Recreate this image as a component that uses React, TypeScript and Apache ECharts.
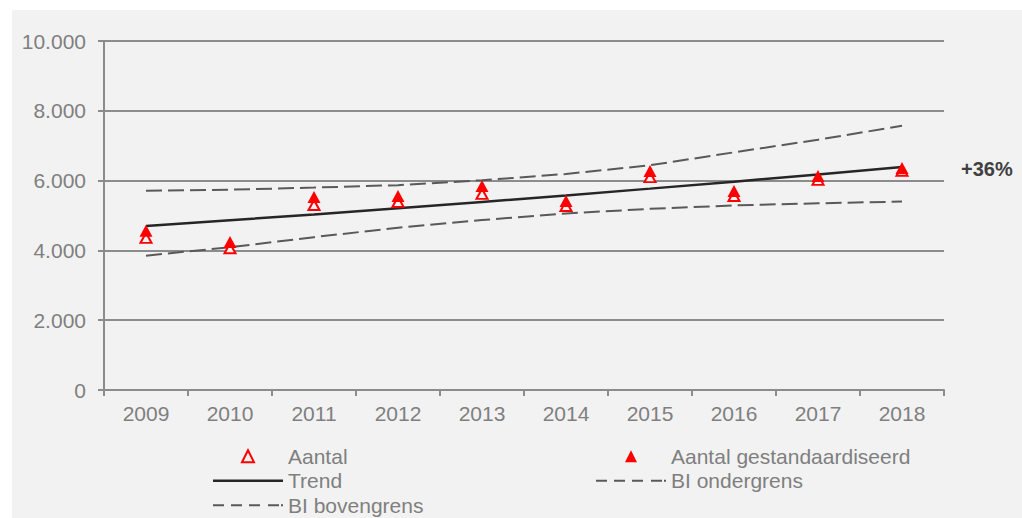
import React, { useEffect, useRef } from "react";
import * as echarts from "echarts";

const years = ["2009", "2010", "2011", "2012", "2013", "2014", "2015", "2016", "2017", "2018"];
const aantal = [4360, 4060, 5300, 5390, 5620, 5270, 6100, 5560, 6020, 6280];
const aantalGest = [4560, 4240, 5530, 5560, 5845, 5415, 6275, 5700, 6130, 6360];
const trend = [4700, 4865, 5030, 5205, 5390, 5575, 5770, 5970, 6175, 6390];
const biOnder = [3850, 4090, 4380, 4650, 4870, 5060, 5190, 5290, 5350, 5400];
const biBoven = [5710, 5740, 5800, 5870, 6010, 6190, 6440, 6810, 7170, 7570];
const changeLabel = "+36%";

const FONT = "'Liberation Sans', Arial, sans-serif";
const GRAY_TEXT = "#7f7f7f";
const AXIS_GRAY = "#8c8c8c";

const TRI_ICON = "path://M0,12L6,0L12,12Z";
const LINE_ICON = "path://M0,0H70V2.5H0Z";
const DASH_ICON = "path://M0,0H11V2H0Z M18,0H29V2H18Z M36,0H47V2H36Z M55,0H66V2H55Z M68,0H70V2H68Z";

export default function App() {
  const ref = useRef<HTMLDivElement>(null);

  useEffect(() => {
    if (!ref.current) return;
    const chart = echarts.init(ref.current, null, { renderer: "svg" });
    const legendCommon = {
      orient: "vertical" as const,
      top: 444,
      padding: 0,
      itemGap: 0,
      itemWidth: 70,
      itemHeight: 12,
      symbolKeepAspect: true,
      selectedMode: false,
      textStyle: { color: GRAY_TEXT, fontSize: 21, fontFamily: FONT, lineHeight: 24.5 },
    };
    chart.setOption({
      animation: false,
      backgroundColor: "transparent",
      textStyle: { fontFamily: FONT },
      grid: { left: 104, right: 78, top: 41, bottom: 128, containLabel: false },
      xAxis: {
        type: "category",
        data: years,
        boundaryGap: true,
        axisLine: { lineStyle: { color: AXIS_GRAY, width: 2 } },
        axisTick: { show: true, length: 6, alignWithLabel: false, lineStyle: { color: AXIS_GRAY, width: 2 } },
        axisLabel: { color: GRAY_TEXT, fontSize: 21, fontFamily: FONT, margin: 13 },
      },
      yAxis: {
        type: "value",
        min: 0,
        max: 10000,
        interval: 2000,
        axisLine: { show: true, lineStyle: { color: AXIS_GRAY, width: 2 } },
        axisTick: { show: true, length: 6, lineStyle: { color: AXIS_GRAY, width: 2 } },
        splitLine: { show: true, lineStyle: { color: AXIS_GRAY, width: 2 } },
        axisLabel: {
          color: GRAY_TEXT,
          fontSize: 21,
          fontFamily: FONT,
          margin: 18,
          formatter: (v: number) => String(v).replace(/\B(?=(\d{3})+(?!\d))/g, "."),
        },
      },
      legend: [
        {
          ...legendCommon,
          left: 213,
          data: [
            { name: "Aantal", icon: TRI_ICON, itemStyle: { color: "#f2f2f2", borderColor: "#ff0000", borderWidth: 2 } },
            { name: "Trend", icon: LINE_ICON, itemStyle: { color: "#262626", borderWidth: 0 } },
            { name: "BI bovengrens", icon: DASH_ICON, itemStyle: { color: "#595959", borderWidth: 0 } },
          ],
        },
        {
          ...legendCommon,
          left: 596,
          data: [
            { name: "Aantal gestandaardiseerd", icon: TRI_ICON, itemStyle: { color: "#ff0000", borderWidth: 0 } },
            { name: "BI ondergrens", icon: DASH_ICON, itemStyle: { color: "#595959", borderWidth: 0 } },
          ],
        },
      ],
      series: [
        {
          name: "BI ondergrens",
          type: "line",
          data: biOnder,
          symbol: "none",
          lineStyle: { color: "#595959", width: 2, type: [16, 6] },
          itemStyle: { color: "#595959" },
          z: 1,
        },
        {
          name: "BI bovengrens",
          type: "line",
          data: biBoven,
          symbol: "none",
          lineStyle: { color: "#595959", width: 2, type: [16, 6] },
          itemStyle: { color: "#595959" },
          z: 1,
        },
        {
          name: "Trend",
          type: "line",
          data: trend,
          symbol: "none",
          lineStyle: { color: "#262626", width: 2.5 },
          itemStyle: { color: "#262626" },
          z: 2,
        },
        {
          name: "Aantal",
          type: "scatter",
          data: aantal,
          symbol: "triangle",
          symbolSize: [11, 10],
          itemStyle: { color: "#f2f2f2", borderColor: "#ff0000", borderWidth: 2, opacity: 1 },
          z: 3,
        },
        {
          name: "Aantal gestandaardiseerd",
          type: "scatter",
          data: aantalGest,
          symbol: "triangle",
          symbolSize: [13, 12],
          itemStyle: { color: "#ff0000", opacity: 1 },
          z: 4,
        },
      ],
      graphic: [
        {
          type: "text",
          left: 961,
          top: 159,
          style: {
            text: changeLabel,
            fill: "#404040",
            font: `bold 20px ${FONT}`,
          },
        },
      ],
    });
    return () => chart.dispose();
  }, []);

  return (
    <div style={{ position: "fixed", left: 0, top: 0, width: 1022, height: 518, background: "#ffffff" }}>
      <div style={{ position: "absolute", left: 12, top: 10, width: 1010, height: 508, background: "#f2f2f2" }} />
      <div ref={ref} style={{ position: "absolute", left: 0, top: 0, width: 1022, height: 518 }} />
    </div>
  );
}
